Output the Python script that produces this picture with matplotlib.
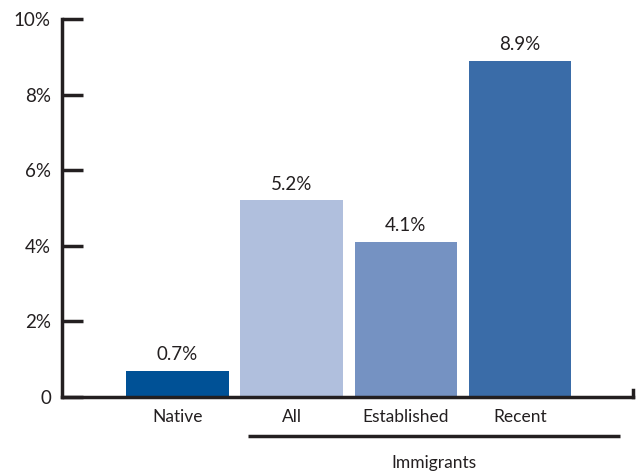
import matplotlib
matplotlib.use("Agg")
import matplotlib.pyplot as plt

categories = ["Native", "All", "Established", "Recent"]
values = [0.7, 5.2, 4.1, 8.9]
value_labels = ["0.7%", "5.2%", "4.1%", "8.9%"]
yticks = [0, 2, 4, 6, 8, 10]
ytick_labels = ["0", "2%", "4%", "6%", "8%", "10%"]
group_label = "Immigrants"
colors = ["#005196", "#B0BFDD", "#7592C2", "#3A6CA8"]

plt.rcParams['font.family'] = ['Lato', 'DejaVu Sans']
txt = "#231F20"

W, H = 641, 471
fig = plt.figure(figsize=(W/100, H/100), dpi=100)
ax = fig.add_axes([62/W, (H-397)/H, (633-62)/W, (397-19)/H])

x = list(range(len(categories)))
ax.bar(x, values, width=0.9, color=colors)
for xi, v, lab in zip(x, values, value_labels):
    ax.text(xi, v + 0.2, lab, ha="center", va="bottom", fontsize=13.5, color=txt)

ax.set_xlim(-1.013, 3.99)
ax.set_ylim(0, 10)
ax.set_yticks(yticks)
ax.set_yticklabels(ytick_labels, fontsize=13.5, color=txt)
ax.tick_params(axis="y", direction="in", length=15, width=2.5, color=txt, pad=8)
ax.set_xticks(x)
ax.set_xticklabels(categories, fontsize=12.5, color=txt)
ax.tick_params(axis="x", length=0, pad=9)

for s in ["top", "right"]:
    ax.spines[s].set_visible(False)
for s in ["left", "bottom"]:
    ax.spines[s].set_linewidth(2.5)
    ax.spines[s].set_color(txt)
ax.spines["left"].set_capstyle("projecting")

# small upward end tick at right end of x axis
ax.plot([1, 1], [0, 7/37.8/10], transform=ax.transAxes, color=txt, lw=2.5, clip_on=False)

# Immigrants bracket line
yb = -39/37.8
ax.plot([0.618, 3.88], [yb, yb], color=txt, lw=2.5, clip_on=False, solid_capstyle="butt")
ax.text((0.618 + 3.88)/2, yb - 0.5, group_label, ha="center", va="top", fontsize=12.5, color=txt, clip_on=False)

fig.savefig("out.png", dpi=100)
